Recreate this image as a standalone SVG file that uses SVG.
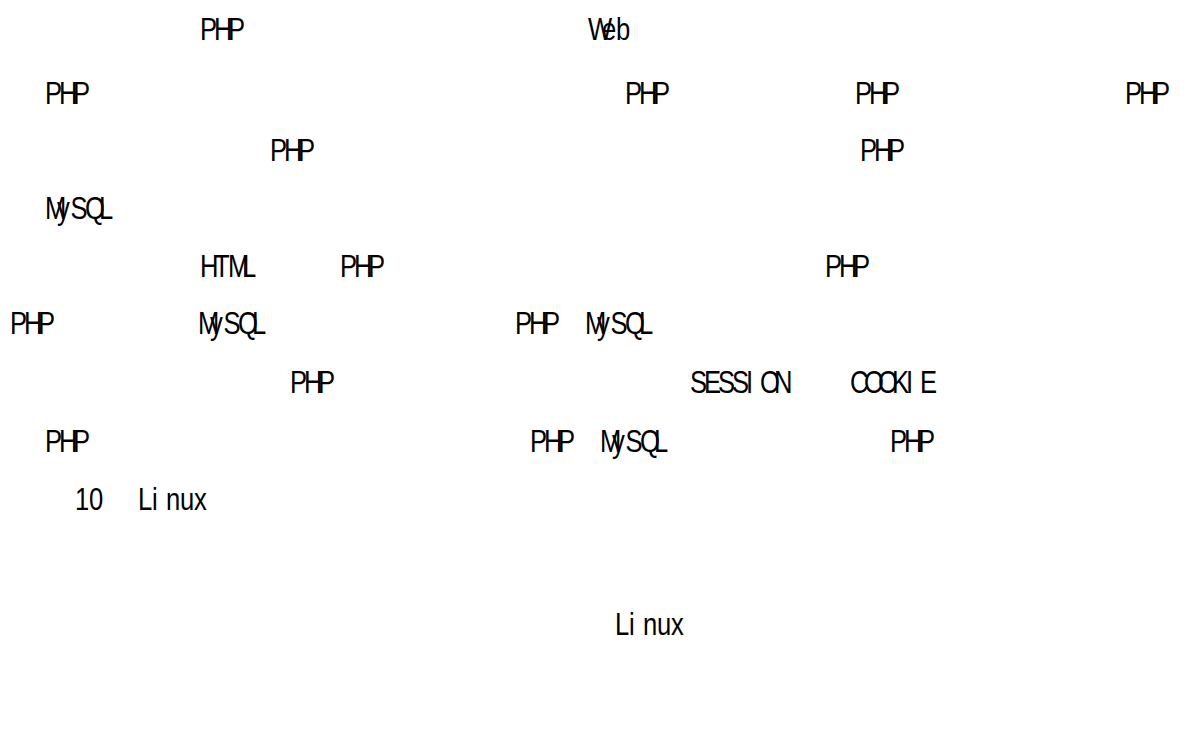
<svg xmlns="http://www.w3.org/2000/svg" width="1188" height="736" viewBox="0 0 1188 736">
<style>
text{font-family:"Liberation Sans","Noto Sans CJK SC",sans-serif;font-size:32px;fill:#000}
</style>
<rect width="1188" height="736" fill="#fff"/>
<g id="line1">
<text transform="translate(200,40) scale(0.8,1)" x="0 17.5 35">PHP</text>
<text transform="translate(588,40) scale(0.8,1)" x="0 17.5 35">Web</text>
</g>
<g id="line2">
<text transform="translate(45,104) scale(0.8,1)" x="0 17.5 35">PHP</text>
<text transform="translate(625,104) scale(0.8,1)" x="0 17.5 35">PHP</text>
<text transform="translate(855,104) scale(0.8,1)" x="0 17.5 35">PHP</text>
<text transform="translate(1125,104) scale(0.8,1)" x="0 17.5 35">PHP</text>
</g>
<g id="line3">
<text transform="translate(270,161) scale(0.8,1)" x="0 17.5 35">PHP</text>
<text transform="translate(860,161) scale(0.8,1)" x="0 17.5 35">PHP</text>
</g>
<g id="line4">
<text transform="translate(45,219) scale(0.8,1)" x="0 15 32 50 67.5">MySQL</text>
</g>
<g id="line5">
<text transform="translate(200,277) scale(0.8,1)" x="0 17.5 35 52.5">HTML</text>
<text transform="translate(340,277) scale(0.8,1)" x="0 17.5 35">PHP</text>
<text transform="translate(825,277) scale(0.8,1)" x="0 17.5 35">PHP</text>
</g>
<g id="line6">
<text transform="translate(10,334) scale(0.8,1)" x="0 17.5 35">PHP</text>
<text transform="translate(198,334) scale(0.8,1)" x="0 15 32 50 67.5">MySQL</text>
<text transform="translate(515,334) scale(0.8,1)" x="0 17.5 35">PHP</text>
<text transform="translate(585,334) scale(0.8,1)" x="0 15 32 50 67.5">MySQL</text>
</g>
<g id="line7">
<text transform="translate(290,393) scale(0.8,1)" x="0 17.5 35">PHP</text>
<text transform="translate(690,393) scale(0.8,1)" x="0 17.5 35 52.5 70 87.5 105">SESSION</text>
<text transform="translate(850,393) scale(0.8,1)" x="0 17.5 35 52.5 70 87.5">COOKIE</text>
</g>
<g id="line8">
<text transform="translate(45,452) scale(0.8,1)" x="0 17.5 35">PHP</text>
<text transform="translate(530,452) scale(0.8,1)" x="0 17.5 35">PHP</text>
<text transform="translate(600,452) scale(0.8,1)" x="0 15 32 50 67.5">MySQL</text>
<text transform="translate(890,452) scale(0.8,1)" x="0 17.5 35">PHP</text>
</g>
<g id="line9">
<text transform="translate(75,510) scale(0.8,1)" x="0 17.5">10</text>
<text transform="translate(138,510) scale(0.8,1)" x="0 17.5 35 52.5 70">Linux</text>
</g>
<g id="line10">
<text transform="translate(615,635) scale(0.8,1)" x="0 17.5 35 52.5 70">Linux</text>
</g>
</svg>
